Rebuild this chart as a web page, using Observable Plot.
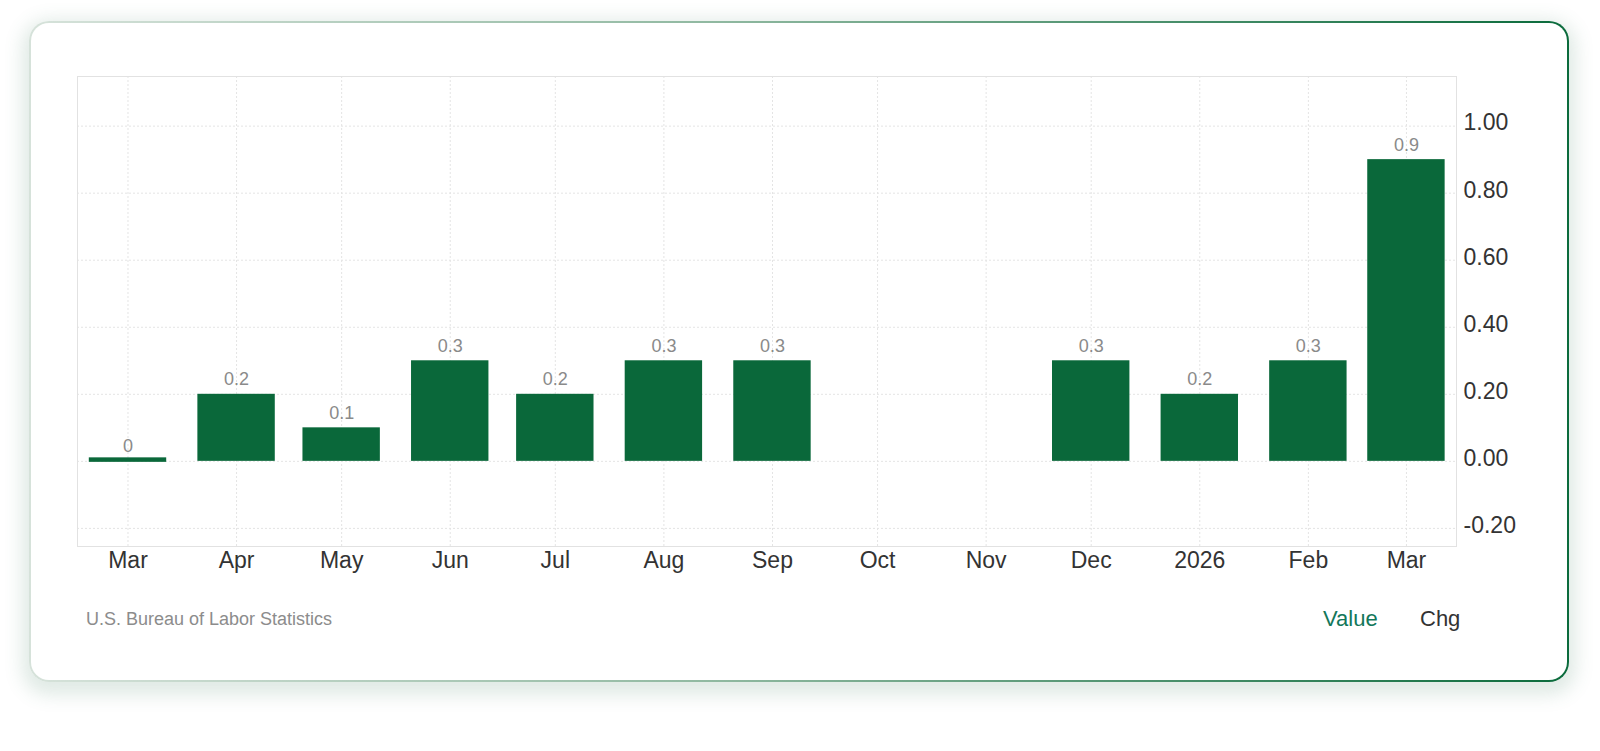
<!DOCTYPE html>
<html>
<head>
<meta charset="utf-8">
<script src="https://cdn.jsdelivr.net/npm/d3@7"></script>
<script src="https://cdn.jsdelivr.net/npm/@observablehq/plot@0.6"></script>
<style>
  html, body { margin: 0; padding: 0; background: #ffffff; width: 1600px; height: 751px; overflow: hidden; }
  body { position: relative; font-family: "Liberation Sans", Arial, sans-serif; }
  #card {
    position: absolute; left: 29px; top: 21px; width: 1540px; height: 661px;
    box-sizing: border-box; border-radius: 20px;
    border: 2px solid transparent;
    background: linear-gradient(#ffffff, #ffffff) padding-box,
                linear-gradient(to right, #d6e2da 0%, #8fb8a0 45%, #0b6b3c 100%) border-box;
    box-shadow: 0 6px 18px 7px rgba(70, 130, 100, 0.17);
  }
  #chart { position: absolute; left: 0; top: 0; }
  #source {
    position: absolute; left: 86px; top: 610px; font-size: 18px; line-height: 18px;
    color: #8c8c8c; white-space: nowrap;
  }
  .toggle { position: absolute; top: 608px; font-size: 22px; line-height: 22px; white-space: nowrap; }
  #value { left: 1323px; color: #13775a; }
  #chg { left: 1420px; color: #333333; }
</style>
</head>
<body>
<div id="card"></div>
<div id="chart"></div>
<div id="source">U.S. Bureau of Labor Statistics</div>
<div class="toggle" id="value">Value</div>
<div class="toggle" id="chg">Chg</div>
<script>
// ---- data ----
const monthStarts = [
  "2025-03-01", "2025-04-01", "2025-05-01", "2025-06-01", "2025-07-01", "2025-08-01",
  "2025-09-01", "2025-10-01", "2025-11-01", "2025-12-01", "2026-01-01", "2026-02-01", "2026-03-01"
];
const tickLabels = ["Mar", "Apr", "May", "Jun", "Jul", "Aug", "Sep", "Oct", "Nov", "Dec", "2026", "Feb", "Mar"];
const values = [0, 0.2, 0.1, 0.3, 0.2, 0.3, 0.3, null, null, 0.3, 0.2, 0.3, 0.9];
const yTicks = [-0.2, 0, 0.2, 0.4, 0.6, 0.8, 1.0];
const yDomain = [-0.254, 1.148];
const xDomain = ["2025-02-14T14:00Z", "2026-03-15T07:00Z"];

// ---- build ----
const months = monthStarts.map(s => new Date(s + "T00:00Z"));
const rows = months.map((d, i) => ({date: d, value: values[i], label: tickLabels[i]}));
const present = rows.filter(r => r.value != null);
const nonZero = present.filter(r => r.value !== 0);
const zeros = present.filter(r => r.value === 0);

const barColor = "#0a683a";
const gridColor = "#e4e4e4";
const halfBar = 38.7;

const chart = Plot.plot({
  width: 1600,
  height: 600,
  marginLeft: 77,
  marginRight: 144,
  marginTop: 76,
  marginBottom: 54,
  style: {background: "transparent", fontFamily: "'Liberation Sans', Arial, sans-serif", fontSize: "23px", color: "#333333", overflow: "visible"},
  x: {type: "utc", domain: xDomain.map(s => new Date(s))},
  y: {domain: yDomain},
  marks: [
    Plot.ruleY(yTicks, {y: d => d, stroke: gridColor, strokeDasharray: "2,2"}),
    Plot.ruleX(months, {x: d => d, stroke: gridColor, strokeDasharray: "2,2"}),
    Plot.frame({stroke: "#e2e2e2"}),
    Plot.rect(nonZero, {x1: "date", x2: "date", y1: 0, y2: "value", fill: barColor,
      insetLeft: -halfBar, insetRight: -halfBar}),
    Plot.rect(zeros, {x1: "date", x2: "date", y1: 0, y2: "value", fill: barColor,
      insetLeft: -halfBar, insetRight: -halfBar, insetTop: -3.5, insetBottom: -1}),
    Plot.text(present, {x: "date", y: "value", text: d => String(d.value), dy: -9,
      lineAnchor: "bottom", fill: "#8a8a8a", fontSize: 18}),
    Plot.axisX(months, {anchor: "bottom", tickSize: 0, tickPadding: 5, fontSize: 23, fill: "#333333",
      tickFormat: d => tickLabels[months.findIndex(m => +m === +d)], label: null}),
    Plot.axisY(yTicks, {anchor: "right", tickSize: 0, tickPadding: 7, fontSize: 23, fill: "#333333",
      dy: -3, tickFormat: v => v.toFixed(2), label: null})
  ]
});
document.getElementById("chart").appendChild(chart);
</script>
</body>
</html>
